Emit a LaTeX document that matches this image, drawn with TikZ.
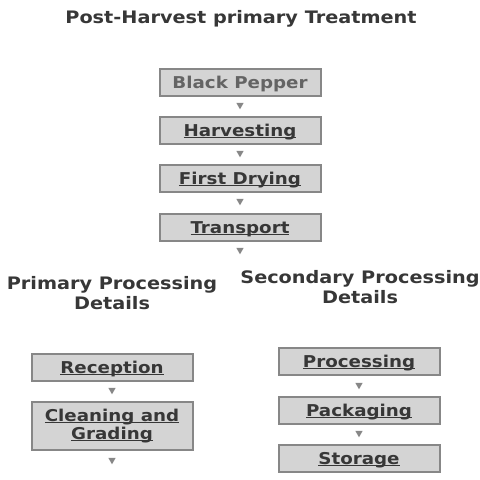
\documentclass[tikz,border=0pt]{standalone}
\usepackage{fontspec}
\setmainfont[FakeStretch=1.12]{DejaVu Sans}
\usetikzlibrary{shapes.geometric}
\definecolor{boxFill}{RGB}{212, 212, 212}
\definecolor{boxLine}{RGB}{135, 135, 135}
\definecolor{textGrey}{RGB}{55, 55, 55}
\definecolor{lightText}{RGB}{100, 100, 100}
\definecolor{markGrey}{RGB}{135, 135, 135}
\newcommand{\uln}[1]{\setbox0\hbox{#1}\rlap{\rule[-2pt]{\wd0}{1.4pt}}\box0}
\tikzset{
  stepbox/.style={fill=boxFill, draw=boxLine, line width=2pt, minimum width=161pt, minimum height=27pt, inner sep=0pt, font=\fontsize{16.3}{19}\selectfont\bfseries, text=textGrey, align=center, text height=14pt, text depth=2pt},
  marker/.style={regular polygon, regular polygon sides=3, shape border rotate=180, fill=markGrey, inner sep=0pt, minimum size=8.5pt},
  heading/.style={font=\fontsize{17.2}{20}\selectfont\bfseries, text=textGrey, align=center}
}
\begin{document}
\begin{tikzpicture}[x=1pt, y=-1pt]
            \useasboundingbox (0,0) rectangle (480,480);
            % Title
            \node[heading] (title) at (241,19) {Post-Harvest primary Treatment};
            % Main chain
            \node[stepbox, text=lightText] (pepper) at (240,82) {Black Pepper};
            \node[marker] (m1) at (240,105) {};
            \node[stepbox] (harvest) at (240,130) {\uln{Harvesting}};
            \node[marker] (m2) at (240,153) {};
            \node[stepbox] (drying) at (240,178) {\uln{First Drying}};
            \node[marker] (m3) at (240,201) {};
            \node[stepbox] (transport) at (240,227) {\uln{Transport}};
            \node[marker] (m4) at (240,250) {};
            
            % Primary
            \node[heading] (primary) at (112,293) {Primary Processing\\Details};
            \node[stepbox] (reception) at (112,367) {\uln{Reception}};
            \node[marker] (m5) at (112,390) {};
            \node[stepbox, minimum height=48pt, text height=, text depth=] (cleaning) at (112,426) {\uln{Cleaning and}\\[-1pt]\uln{Grading}};
            \node[marker] (m6) at (112,460) {};
            
            % Secondary
            \node[heading] (secondary) at (360,287) {Secondary Processing\\Details};
            \node[stepbox] (processing) at (359,361) {\uln{Processing}};
            \node[marker] (m7) at (359,385) {};
            \node[stepbox] (packaging) at (359,410) {\uln{Packaging}};
            \node[marker] (m8) at (359,433) {};
            \node[stepbox] (storage) at (359,458) {\uln{Storage}};
        \end{tikzpicture}
\end{document}
